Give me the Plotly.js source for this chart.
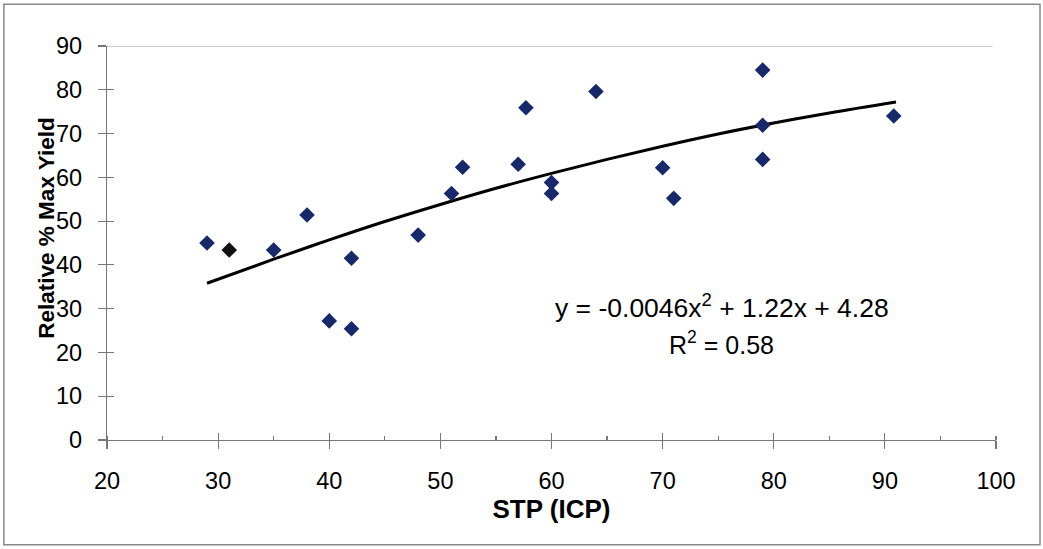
<!DOCTYPE html>
<html>
<head>
<meta charset="utf-8">
<script src="https://cdn.plot.ly/plotly-3.0.1.min.js"></script>
<style>
html,body{margin:0;padding:0;background:#fff;}
#chart{width:1043px;height:549px;}
</style>
</head>
<body>
<div id="chart"></div>
<script>
// Observed data points: STP (ICP) vs Relative % Max Yield
const stpX = [29, 31, 35, 38, 42, 40, 42, 48, 51, 52, 57, 57.7, 60, 60, 64, 70, 71, 79, 79, 79, 90.8];
const yieldY = [45.0, 43.4, 43.4, 51.4, 41.5, 27.2, 25.4, 46.8, 56.3, 62.3, 63.0, 75.9, 58.8, 56.3, 79.6, 62.2, 55.2, 84.5, 71.9, 64.1, 74.0];
const pointColors = ["#17286b", "#111111", "#17286b", "#17286b", "#17286b", "#17286b", "#17286b", "#17286b", "#17286b", "#17286b", "#17286b", "#17286b", "#17286b", "#17286b", "#17286b", "#17286b", "#17286b", "#17286b", "#17286b", "#17286b", "#17286b"];

// Trendline (polynomial order 2)
const trendX = [29, 35, 40, 45, 50, 55, 60, 65, 70, 75, 80, 85, 91];
const trendY = [35.8, 41.3, 45.7, 49.9, 53.8, 57.5, 60.9, 64.1, 67.1, 69.9, 72.4, 74.7, 77.2];

const xTicks = [20, 30, 40, 50, 60, 70, 80, 90, 100];
const yTicks = [0, 10, 20, 30, 40, 50, 60, 70, 80, 90];

const xTitle = "<b>STP (ICP)</b>";
const yTitle = "<b>Relative % Max Yield</b>";
const eqText = "y = -0.0046x<sup>2</sup> + 1.22x + 4.28";
const r2Text = "R<sup>2</sup> = 0.58";

const font = "Liberation Sans, Arial, sans-serif";

const traces = [
  {
    x: trendX, y: trendY, type: "scatter", mode: "lines",
    line: {color: "#000", width: 3, shape: "spline"},
    hoverinfo: "skip", showlegend: false
  },
  {
    x: stpX, y: yieldY, type: "scatter", mode: "markers",
    marker: {symbol: "diamond", size: 12, color: pointColors, line: {width: 0}},
    showlegend: false
  },
  {
    // empty trace that carries the inner half of the crossing ticks
    x: [], y: [], xaxis: "x2", yaxis: "y2", type: "scatter", mode: "markers",
    showlegend: false, hoverinfo: "skip"
  }
];

const axisCommon = {
  showgrid: false, zeroline: false, showline: true, linecolor: "#777", linewidth: 1.2,
  ticks: "outside", ticklen: 8, tickcolor: "#777", tickwidth: 1.2,
  tickfont: {family: font, size: 23.5, color: "#000"}
};

const layout = {
  width: 1043, height: 549,
  margin: {l: 107, r: 47, t: 46, b: 109},
  paper_bgcolor: "#fff", plot_bgcolor: "#fff",
  font: {family: font, size: 22, color: "#000"},
  xaxis: Object.assign({}, axisCommon, {
    range: [20, 100], tickvals: xTicks, ticktext: xTicks.map(String),
    ticklabelstandoff: 12,
    minor: {dtick: 5, ticks: "inside", ticklen: 4, tickcolor: "#777"},
    title: {text: xTitle, font: {family: font, size: 26, color: "#000"}, standoff: 2}
  }),
  yaxis: Object.assign({}, axisCommon, {
    range: [0, 90], tickvals: yTicks, ticktext: yTicks.map(String),
    ticklabelstandoff: 11
  }),
  xaxis2: {
    overlaying: "x", anchor: "y2", side: "bottom", range: [20, 100], tickvals: xTicks,
    showticklabels: false, showgrid: false, zeroline: false, showline: false,
    ticks: "inside", ticklen: 7, tickcolor: "#777", tickwidth: 1.2
  },
  yaxis2: {
    overlaying: "y", anchor: "x2", side: "left", range: [0, 90], tickvals: yTicks,
    showticklabels: false, showgrid: false, zeroline: false, showline: false,
    ticks: "inside", ticklen: 7, tickcolor: "#777", tickwidth: 1.2
  },
  shapes: [
    {type: "line", xref: "x", yref: "y", x0: 20, x1: 99.7, y0: 90, y1: 90,
     line: {color: "#999", width: 1.2}},
    {type: "rect", xref: "paper", yref: "paper", x0: -0.116, x1: 1.0495, y0: -0.266, y1: 1.106,
     line: {color: "#888", width: 1.5}, fillcolor: "rgba(0,0,0,0)"}
  ],
  annotations: [
    {x: -0.069, y: 0.538, xref: "paper", yref: "paper", text: yTitle, textangle: -90, showarrow: false,
     font: {family: font, size: 22.5, color: "#000"}, xanchor: "center", yanchor: "middle"},
    {x: 75.3, y: 30.6, xref: "x", yref: "y", text: eqText, showarrow: false,
     font: {family: font, size: 26.5, color: "#000"}, xanchor: "center", yanchor: "middle"},
    {x: 75.3, y: 22.1, xref: "x", yref: "y", text: r2Text, showarrow: false,
     font: {family: font, size: 25, color: "#000"}, xanchor: "center", yanchor: "middle"}
  ]
};

Plotly.newPlot("chart", traces, layout, {displayModeBar: false, staticPlot: true});
</script>
</body>
</html>
